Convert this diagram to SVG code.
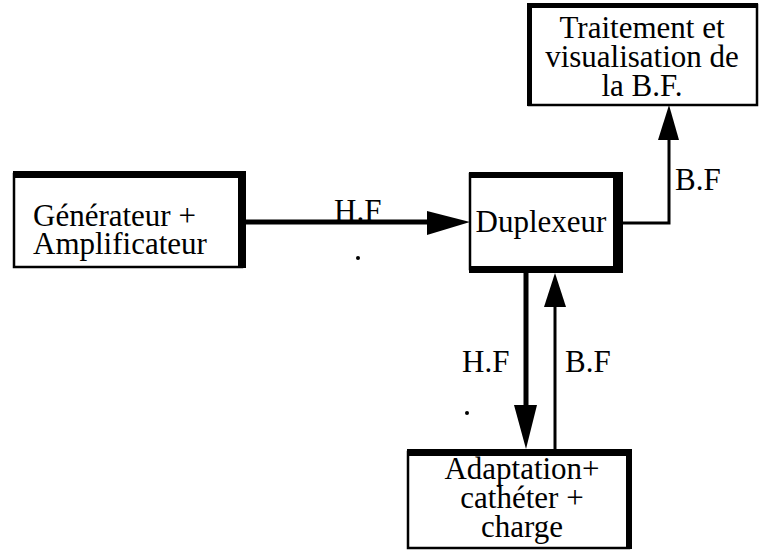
<svg xmlns="http://www.w3.org/2000/svg" width="759" height="550" viewBox="0 0 759 550">
  <style>
    .box { fill: #ffffff; stroke: #000000; stroke-width: 2.5; }
    .bar { fill: #000000; }
    .t { font-family: "Liberation Serif", "Times New Roman", serif; font-size: 31px; fill: #000000; }
    .c { text-anchor: middle; }
    .thick { stroke: #000000; stroke-width: 5; fill: none; }
    .thin { stroke: #000000; stroke-width: 3; fill: none; }
    .head { fill: #000000; }
  </style>
  <rect width="759" height="550" fill="#ffffff"/>

  <g id="generateur">
    <rect class="box" x="14" y="174" width="228" height="93"/>
    <rect class="bar" x="13" y="171" width="233" height="7"/>
    <rect class="bar" x="238" y="171" width="8" height="97"/>
    <text class="t" x="33" y="226">Générateur +</text>
    <text class="t" x="33" y="254">Amplificateur</text>
  </g>

  <g id="duplexeur">
    <rect class="box" x="470" y="174" width="148" height="95"/>
    <rect class="bar" x="469" y="172" width="154" height="6"/>
    <rect class="bar" x="613" y="172" width="10" height="101"/>
    <rect class="bar" x="469" y="266" width="154" height="7"/>
    <text class="t c" x="541" y="232">Duplexeur</text>
  </g>

  <g id="traitement">
    <rect class="box" x="529" y="5" width="228" height="100"/>
    <rect class="bar" x="527" y="3" width="231" height="5"/>
    <rect class="bar" x="527" y="3" width="5" height="103"/>
    <text class="t c" x="642" y="38">Traitement et</text>
    <text class="t c" x="642" y="67">visualisation de</text>
    <text class="t c" x="642" y="96">la B.F.</text>
  </g>

  <g id="adaptation">
    <rect class="box" x="408" y="452" width="221" height="96"/>
    <rect class="bar" x="407" y="449" width="225" height="7"/>
    <rect class="bar" x="626" y="449" width="6" height="100"/>
    <text class="t c" x="522" y="479">Adaptation+</text>
    <text class="t c" x="522" y="508">cathéter +</text>
    <text class="t c" x="522" y="537">charge</text>
  </g>

  <g id="connectors">
    <line class="thick" x1="246" y1="222" x2="430" y2="222"/>
    <polygon class="head" points="427,211 470,222 427,235"/>
    <polyline class="thin" points="623,223 669,223 669,138"/>
    <polygon class="head" points="658,140 669,105 679,140"/>
    <line class="thick" x1="526" y1="273" x2="526" y2="408"/>
    <polygon class="head" points="514,405 537,405 526,449"/>
    <line class="thin" x1="555" y1="449" x2="555" y2="305"/>
    <polygon class="head" points="544,307 555,273 566,307"/>
    <circle cx="358" cy="258" r="2" fill="#000000"/>
    <circle cx="467" cy="413" r="2" fill="#000000"/>
  </g>

  <g id="labels">
    <text class="t" x="334" y="221">H.F</text>
    <text class="t" x="675" y="190">B.F</text>
    <text class="t" x="462" y="372">H.F</text>
    <text class="t" x="565" y="372">B.F</text>
  </g>
</svg>
